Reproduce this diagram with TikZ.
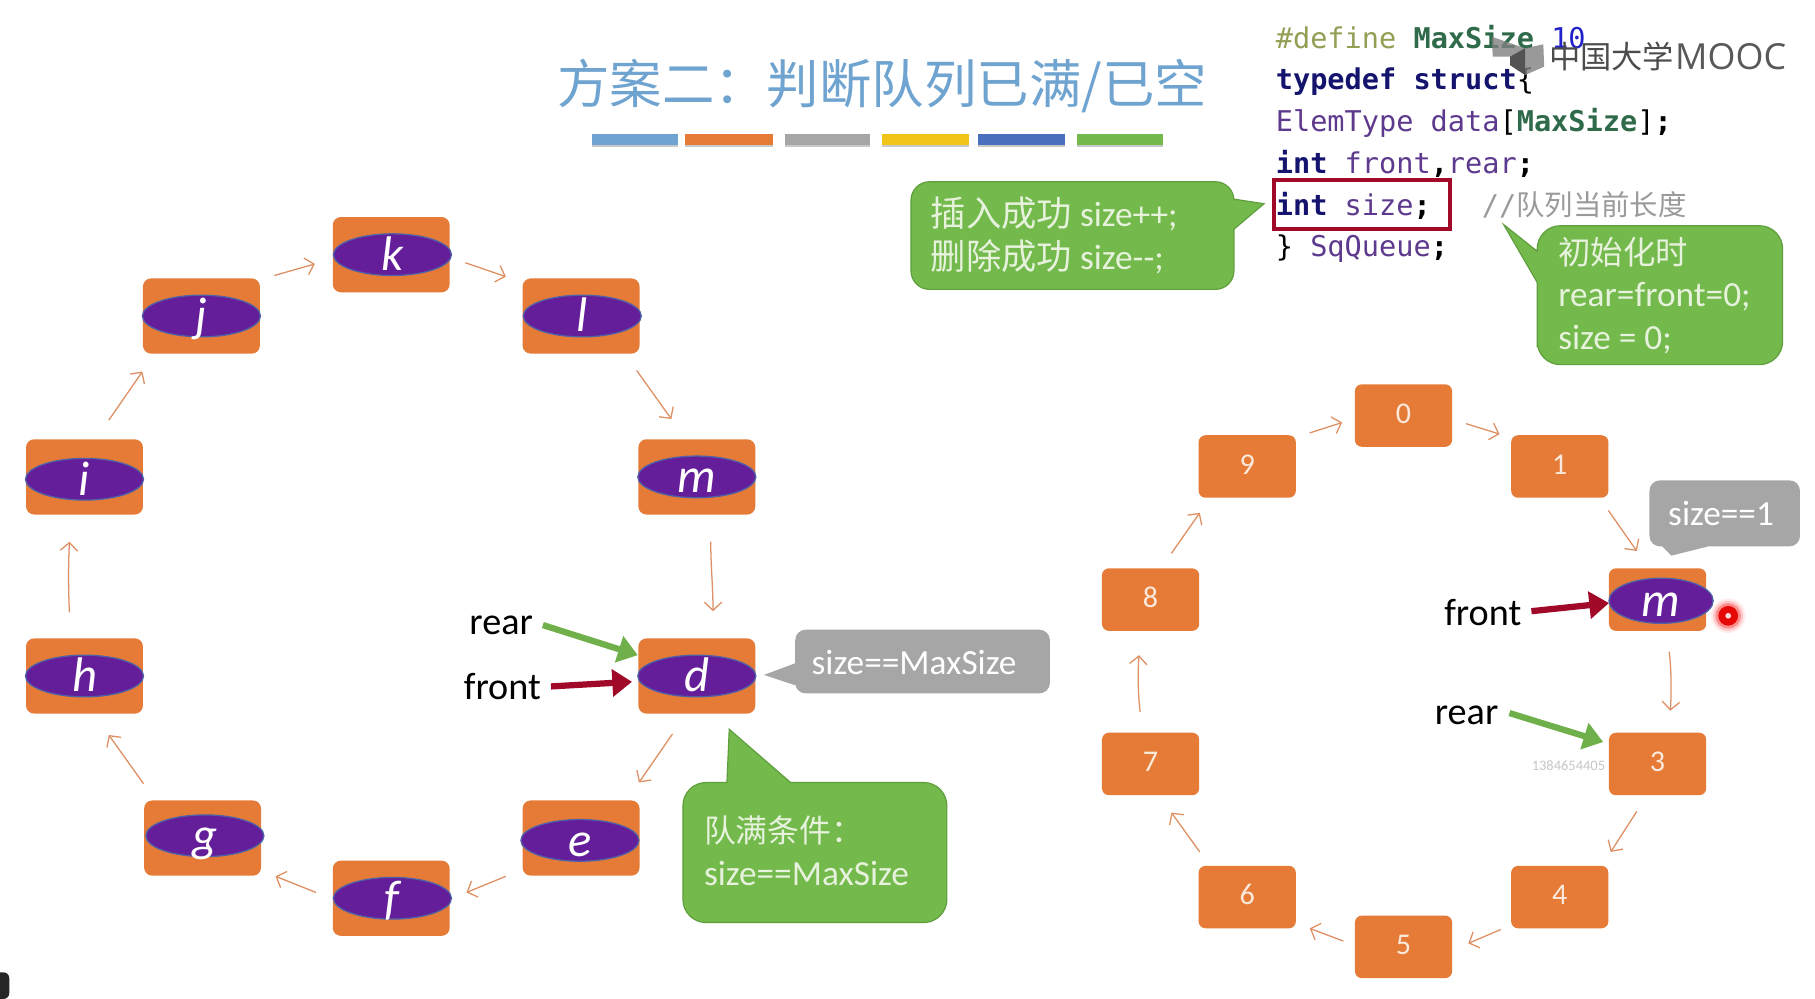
\documentclass[tikz,border=0pt]{standalone}
\usepackage{fontspec}
\setmainfont{Carlito}
\newfontfamily\cjk{Noto Sans CJK SC}
\newfontfamily\codef{DejaVu Sans Mono}
\newfontfamily\moocf{Open Sans}
\usetikzlibrary{arrows.meta,shapes.geometric}
\definecolor{boxorange}{HTML}{E57B36}
\definecolor{flowc}{HTML}{DE8F63}
\definecolor{purp}{HTML}{651E9A}
\definecolor{purpb}{HTML}{4F62A8}
\definecolor{gr}{HTML}{73B94B}
\definecolor{grb}{HTML}{5E9E3C}
\definecolor{grey}{HTML}{A6A6A6}
\definecolor{softg}{HTML}{E6F2DC}
\definecolor{softo}{HTML}{FBE9DC}
\definecolor{redb}{HTML}{A00A28}
\definecolor{arrg}{HTML}{70B04A}
\definecolor{codenavy}{HTML}{14146E}
\definecolor{codepur}{HTML}{5E3A8E}
\definecolor{codegreen}{HTML}{2F6B4A}
\definecolor{codeolive}{HTML}{959E55}
\definecolor{codeblue}{HTML}{2222CC}
\definecolor{codegrey}{HTML}{9A9A9A}
\definecolor{titlec}{HTML}{6FA3D0}
\tikzset{
  x=1pt,y=-1pt,
  boxa/.style={draw=none,fill=boxorange,rounded corners=7,minimum width=101,minimum height=65,inner sep=0},
  boxb/.style={draw=none,fill=boxorange,rounded corners=6,minimum width=84,minimum height=54,inner sep=0,text=softo,text height=17,text depth=4,font=\fontsize{26}{28}\selectfont},
  ell/.style={ellipse,draw=purpb,line width=1.1,fill=purp,minimum width=102,minimum height=36,inner sep=0},
  ltr/.style={text=white,inner sep=0,font=\fontsize{42}{44}\selectfont\itshape},
  flow/.style={draw=flowc,line width=1.1,-{Straight Barb[length=7,width=15,line width=1.1]}},
  fatg/.style={draw=arrg,line width=5.4,-{Triangle[length=17,width=23]}},
  fatr/.style={draw=redb,line width=5.4,-{Triangle[length=17,width=23]}},
  lbl/.style={inner sep=0,text=black,font=\fontsize{33}{35}\selectfont},
  callg/.style={fill=gr,draw=grb,line width=1},
  callk/.style={fill=grey,draw=none},
  ctext/.style={anchor=west,inner sep=0,text=softg,font=\fontsize{30.5}{32}\selectfont},
  ctextk/.style={anchor=west,inner sep=0,text=white,font=\fontsize{30.5}{32}\selectfont},
  code/.style={anchor=base west,inner sep=0,font=\codef\fontsize{24.7}{27}\selectfont},
  bar/.style={minimum height=9,inner sep=0,minimum width=75},
}
\newcommand{\lettered}[6]{%
  \node[boxa] (#1) at (#2,#3) {};
  \node[ell] (#1e) at (#2+#5,#3+#6) {};
  \node[ltr] (#1t) at ([yshift=-5]#1e.center) {\strut #4};}
\newcommand{\ringarr}[6]{\draw[flow] ([shift={(#2,#3)}]#1.center) -- ([shift={(#5,#6)}]#4.center);}
\newcommand{\colorbar}[3]{%
  \fill[black!35,opacity=.6] (#1,118) rectangle (#2,127);
  \node[bar,fill=#3,minimum width=#2-#1] (bar#3) at ({(#1+#2)/2},120.5) {};}
\begin{document}
\begin{tikzpicture}
\useasboundingbox (0,0) rectangle (1568,863);
\fill[white] (0,0) rectangle (1568,863);
% title
\node[inner sep=0,text=titlec,font=\cjk\fontsize{45.3}{48}\selectfont] (title) at (762,74) {方案二：判断队列已满/已空};
\colorbar{511}{586}{titlec}
\colorbar{592}{668}{boxorange}
\colorbar{678}{752}{grey}
\definecolor{baryel}{HTML}{F2C318}\colorbar{762}{837}{baryel}
\definecolor{barblu}{HTML}{4A6FBD}\colorbar{845}{920}{barblu}
\colorbar{930}{1005}{gr}
% code
\node[code] (c1) at (1102,41.5) {\textcolor{codeolive}{\#define} \textcolor{codegreen}{\bfseries MaxSize} \textcolor{codeblue}{10}};
\node[code] (c2) at (1102,77.5) {\textcolor{codenavy}{\bfseries typedef struct}\{};
\node[code] (c3) at (1102,113.5) {\textcolor{codepur}{ElemType data}[\textcolor{codegreen}{\bfseries MaxSize}]\textbf{;}};
\node[code] (c4) at (1102,149.5) {\textcolor{codenavy}{\bfseries int} \textcolor{codepur}{front}\textbf{,}\textcolor{codepur}{rear}\textbf{;}};
\node[code] (c5) at (1102,186) {\textcolor{codenavy}{\bfseries int} \textcolor{codepur}{size}\textbf{;}};
\node[code,text=codegrey] (c5b) at (1280,186) {//{\cjk\fontsize{24.5}{26}\selectfont 队列当前长度}};
\node[code] (c6) at (1102,222) {\} \textcolor{codepur}{SqQueue}\textbf{;}};
\node[draw=redb,line width=3.4,inner sep=0,minimum width=152,minimum height=42] (sizebox) at (1177,176.5) {};
% watermark
\fill[black!50,opacity=.8] (1288.7,31.7) -- (1317.5,41.7) -- (1333.3,38.3) -- (1334,57.6) -- (1317.5,64.8) -- (1304.5,56.2) -- (1304.5,49) -- (1289.6,49) -- cycle;
\fill[black!72,opacity=.85] (1304.5,49) -- (1317.5,41.7) -- (1317.5,64.8) -- (1304.5,56.2) -- cycle;
\node[inner sep=0,anchor=west,text=black!70,font=\cjk\fontsize{27}{30}\selectfont] (moocc) at (1338,49) {中国大学};
\node[inner sep=0,anchor=west,text=black!65,font=\moocf\fontsize{31}{33}\selectfont] (mooc) at (1447,49) {MOOC};
% left ring
\lettered{k}{338}{220}{k}{1}{0}
\lettered{l}{502}{273}{l}{1}{0}
\lettered{m}{602}{412}{m}{0}{0}
\lettered{d}{602}{584}{d}{0}{0}
\lettered{e}{502}{724}{e}{-1}{2}
\lettered{f}{338}{776}{f}{1}{0}
\lettered{g}{175}{724}{g}{2}{-2}
\lettered{h}{73}{584}{h}{0}{0}
\lettered{i}{73}{412}{i}{0}{2}
\lettered{j}{174}{273}{j}{0}{0}
\ringarr{j}{63}{-35}{k}{-66}{8}
\ringarr{k}{64}{7}{l}{-65}{-34}
\ringarr{l}{48}{47}{m}{-22}{-50}
\draw[flow] ([shift={(12,56)}]m.center) .. controls ([shift={(12,75)}]m.center) and ([shift={(14,-75)}]d.center) .. ([shift={(14,-56)}]d.center);
\ringarr{d}{-21}{50}{e}{50}{-48}
\ringarr{e}{-65}{33}{f}{65}{-5}
\ringarr{f}{-65}{-5}{g}{63}{33}
\ringarr{g}{-51}{-47}{h}{21}{51}
\draw[flow] ([shift={(-13,-55)}]h.center) .. controls ([shift={(-14,-75)}]h.center) and ([shift={(-14,75)}]i.center) .. ([shift={(-13,56)}]i.center);
\ringarr{i}{21}{-49}{j}{-51}{48}
% left pointers
\node[lbl] (lrear) at (433,540) {rear};
\node[lbl] (lfront) at (434,593) {front};
\draw[fatg] ([shift={(36,0)}]lrear.center) -- ([shift={(-51,-18)}]d.center);
\draw[fatr] ([shift={(42,0)}]lfront.center) -- ([shift={(-56,5)}]d.center);
% right ring
\node[boxb] (r0) at (1212.5,359) {0};
\node[boxb] (r1) at (1347.5,403) {1};
\node[boxb] (rm) at (1432,518) {};
\node[boxb] (r3) at (1432,660) {3};
\node[boxb] (r4) at (1347.5,775) {4};
\node[boxb] (r5) at (1212.5,818) {5};
\node[boxb] (r6) at (1077.5,775) {6};
\node[boxb] (r7) at (994,660) {7};
\node[boxb] (r8) at (994,518) {8};
\node[boxb] (r9) at (1077.5,403) {9};
\node[ell,minimum width=90,minimum height=39] (rme) at (1435,519) {};
\node[ltr] (rmt) at ([yshift=-5]rme.center) {\strut m};
\ringarr{r9}{54}{-29}{r0}{-53}{6}
\ringarr{r0}{54}{7}{r1}{-52}{-28}
\ringarr{r1}{42}{38}{rm}{-18}{-42}
\draw[flow] ([shift={(10,45)}]rm.center) .. controls ([shift={(12,60)}]rm.center) and ([shift={(12,-60)}]r3.center) .. ([shift={(11,-46)}]r3.center);
\ringarr{r3}{-18}{41}{r4}{44}{-39}
\ringarr{r4}{-51}{28}{r5}{56}{-3}
\ringarr{r5}{-52}{-5}{r6}{54}{27}
\ringarr{r6}{-41}{-39}{r7}{18}{42}
\draw[flow] ([shift={(-9,-45)}]r7.center) .. controls ([shift={(-11,-60)}]r7.center) and ([shift={(-11,60)}]r8.center) .. ([shift={(-10,48)}]r8.center);
\ringarr{r8}{18}{-40}{r9}{-41}{40}
% right pointers
\node[lbl] (rfront) at (1281,529) {front};
\node[lbl] (rrear) at (1267,618) {rear};
\draw[fatr] ([shift={(42,-1)}]rfront.center) -- ([shift={(-42,3)}]rm.center);
\draw[fatg] ([shift={(37,-2)}]rrear.center) -- ([shift={(-47,-19)}]r3.center);
\node[inner sep=0,text=black!22,font=\fontsize{12.5}{14}\selectfont] (uid) at (1355,661) {1384654405};
% cursor glow
\fill[red,opacity=.07] (1493,532) circle (15);
\fill[red,opacity=.15] (1493,532) circle (13);
\fill[red,opacity=.30] (1493,532) circle (11);
\fill[red!90!black,opacity=.95] (1493,532) circle (8.5);
\node[circle,fill=red!15,minimum size=5,inner sep=0] (cursor) at (1493,532) {};
% callouts
\draw[callg] (1066,172) [rounded corners=16] -- (1066,157) -- (787,157) -- (787,250) -- (1066,250) -- (1066,215) [sharp corners] -- (1066,198) -- (1092,176) -- cycle;
\node[ctext] (a1) at (804,185) {{\cjk 插入成功} size++;};
\node[ctext] (a2) at (804,222) {{\cjk 删除成功} size{-}{-};};
\draw[callg] (1328,217) [rounded corners=20] -- (1328,195) -- (1540,195) -- (1540,315) -- (1328,315) -- (1328,280) [sharp corners] -- (1328,244) -- (1299,194) -- cycle;
\node[ctext,font=\cjk\fontsize{28}{30}\selectfont] (b1) at (1346,218) {初始化时};
\node[ctext] (b2) at (1346,256) {rear=front=0;};
\node[ctext] (b3) at (1346,293) {size = 0;};
\draw[callg] (628,676) [rounded corners=20] -- (590,676) -- (590,797) -- (818,797) -- (818,676) -- (720,676) [sharp corners] -- (683,676) -- (630,630) -- cycle;
\node[ctext,font=\cjk\fontsize{27.5}{30}\selectfont] (e1) at (608,717) {队满条件：};
\node[ctext] (e2) at (608,755) {size==MaxSize};
\fill[callk] (687,573) [rounded corners=9] -- (687,544) -- (907,544) -- (907,599) -- (687,599) [sharp corners] -- (687,592) -- (660,583) -- cycle;
\node[ctextk] (s1) at (701,572) {size==MaxSize};
\fill[callk] (1436,472) [rounded corners=9] -- (1425,472) -- (1425,415) -- (1555,415) -- (1555,472) -- (1500,472) [sharp corners] -- (1476,472) -- (1444,480) -- cycle;
\node[ctextk] (s2) at (1441,444) {size==1};
% corner
\fill[black!85] (0,863) -- (0,840) [rounded corners=5] -- (8,840) -- (8,863) [sharp corners] -- cycle;
\end{tikzpicture}
\end{document}
